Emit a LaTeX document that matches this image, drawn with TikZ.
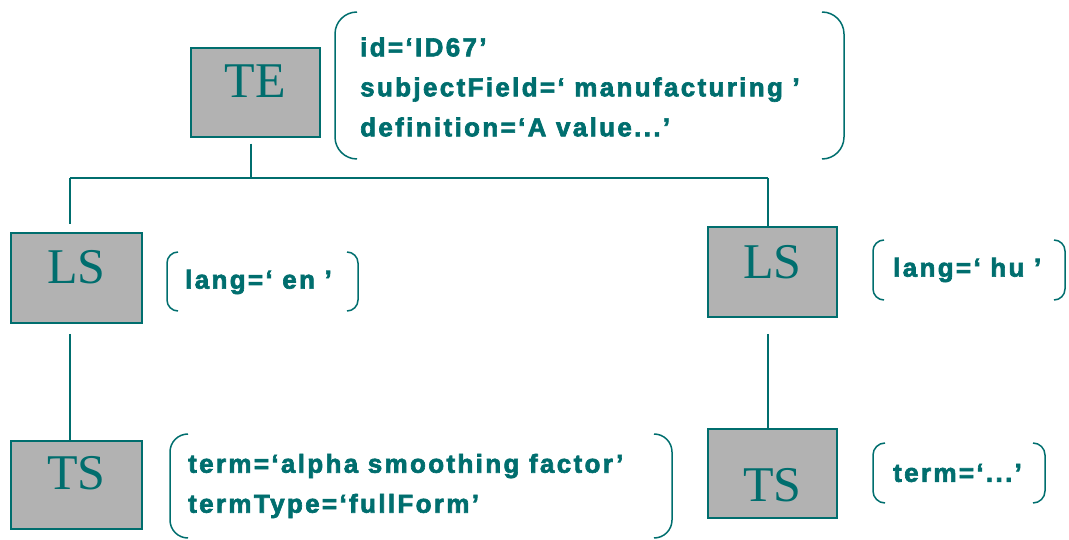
\documentclass[tikz,border=0pt]{standalone}
\usepackage{fontspec}
\setmainfont{Liberation Serif}
\newfontfamily\attrfont[LetterSpace=9,FakeBold=2.5]{Liberation Sans Bold}
\usetikzlibrary{calc}
\definecolor{tealink}{RGB}{0,110,110}
\definecolor{boxgray}{RGB}{178,178,178}

% a pair of round brackets ( ) enclosing an attribute list
\newcommand\attrbrackets[5]{% x-left, y-top, x-right, y-bottom, corner radius
  \draw[bracket, rounded corners=#5pt] (#1+#5,#2) -- (#1,#2) -- (#1,#4) -- (#1+#5,#4);
  \draw[bracket, rounded corners=#5pt] (#3-#5,#2) -- (#3,#2) -- (#3,#4) -- (#3-#5,#4);
}

\begin{document}
\begin{tikzpicture}[x=1pt,y=-1pt,
  elem/.style={draw=tealink, line width=1.5pt, fill=boxgray, inner sep=0pt,
    text=tealink, font=\fontsize{50}{50}\selectfont, text height=33pt, text depth=0pt},
  attr/.style={inner sep=0pt, anchor=west, align=left, text=tealink,
    font=\attrfont\fontsize{26}{40}\selectfont},
  link/.style={draw=tealink, line width=1.5pt},
  bracket/.style={draw=tealink, line width=1.5pt}]

\useasboundingbox (0,0) rectangle (1069,540);

% element boxes
\node[elem, minimum width=129pt, minimum height=89pt] (TE)  at (255.5,92.5) {\raisebox{11.5pt}{TE}};
\node[elem, minimum width=131pt, minimum height=90pt] (LSen) at (76.5,278)  {\raisebox{11pt}{LS}};
\node[elem, minimum width=129pt, minimum height=90pt] (LShu) at (772.5,272) {\raisebox{10pt}{LS}};
\node[elem, minimum width=131pt, minimum height=88pt] (TSen) at (76.5,485)  {\raisebox{12pt}{TS}};
\node[elem, minimum width=129pt, minimum height=89pt] (TShu) at (772.5,473.5) {\raisebox{-11.5pt}{TS}};

% attribute lists
\node[attr] (TEattr) at (360,87) {id=‘ID67’\\subjectField=‘ manufacturing ’\\definition=‘A value...’};
\attrbrackets{335}{12}{844}{159}{22}
\node[attr] (LSenattr) at (185,282) {lang=‘ en ’};
\attrbrackets{167}{252}{358}{311}{11}
\node[attr] (LShuattr) at (893,270) {lang=‘ hu ’};
\attrbrackets{873}{240}{1065}{300}{11}
\node[attr] (TSenattr) at (188,486) {term=‘alpha smoothing factor’\\termType=‘fullForm’};
\attrbrackets{170}{434}{672}{538}{18}
\node[attr] (TShuattr) at (893,473) {term=‘...’};
\attrbrackets{873}{443}{1045}{503}{12}

% tree connectors
\coordinate (bus) at (251,178);
\coordinate (busL) at (70,178);
\coordinate (busR) at (768,178);
\draw[link] (TE.south) ++(-4.5,6) -- (bus);
\draw[link] (busL) -- (busR);
\draw[link] (busL) -- ($(LSen.north)+(-6.5,-8)$);
\draw[link] (busR) -- (LShu.north -| busR);
\draw[link] ($(LSen.south)+(-6.5,10)$) -- (TSen.north -| busL);
\draw[link] ($(LShu.south)+(-4.5,16)$) -- (TShu.north -| busR);
\end{tikzpicture}
\end{document}
